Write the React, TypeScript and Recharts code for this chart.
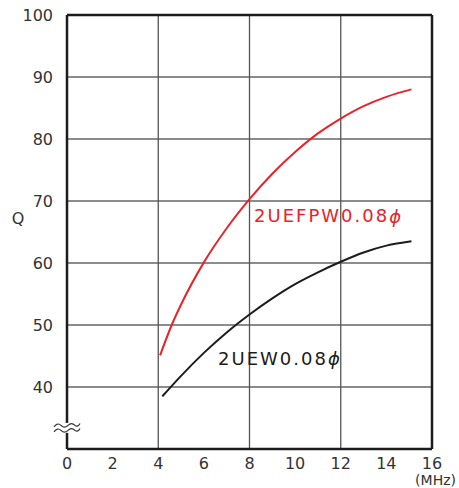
import React from "react"
import {
  LineChart,
  Line,
  XAxis,
  YAxis,
  ReferenceLine,
  ReferenceDot,
} from "recharts"

// Q vs frequency (MHz)
const freqRed = [4.08, 4.59, 5, 6, 7, 8, 9, 10, 11, 12, 13, 14, 15.1]
const qRed = [45.1, 50, 53.3, 60.1, 65.6, 70.3, 74.4, 77.9, 80.9, 83.3, 85.3, 86.8, 88]
const freqBlack = [4.18, 5, 6, 7, 8, 9, 10, 11, 12, 13, 14, 15.1]
const qBlack = [38.5, 41.8, 45.5, 48.8, 51.7, 54.3, 56.6, 58.5, 60.2, 61.7, 62.8, 63.5]

const xTicks = [0, 2, 4, 6, 8, 10, 12, 14, 16]
const yTicks = [40, 50, 60, 70, 80, 90, 100]
const xGrid = [4, 8, 12]
const yGrid = [40, 50, 60, 70, 80, 90]

const redData = freqRed.map((f, i) => ({ f, q: qRed[i] }))
const blackData = freqBlack.map((f, i) => ({ f, q: qBlack[i] }))

const FONT = "'DejaVu Sans', sans-serif"
const RED = "#e8232a"
const INK = "#1c1c1c"
const TXT = "#333"

const BreakMark = (props: any) => {
  const { cx, cy } = props
  const wave = (dy: number) =>
    `M${cx - 13},${cy + dy + 2} q3.5,-5 7,-1.5 t7,0 t7,0 q3,2 5,-2`
  return (
    <g>
      <rect x={cx - 3} y={cy - 5} width={6} height={10} fill="#fff" />
      <path d={wave(-3)} fill="none" stroke={TXT} strokeWidth={1.2} />
      <path d={wave(2)} fill="none" stroke={TXT} strokeWidth={1.2} />
    </g>
  )
}

export default function App() {
  return (
    <div style={{ position: "absolute", left: 0, top: 0, background: "#fff" }}>
      <LineChart
        width={459}
        height={488}
        margin={{ top: 15, right: 27, bottom: 0, left: 0 }}
        style={{ fontFamily: FONT }}
      >
        <XAxis
          dataKey="f"
          type="number"
          domain={[0, 16]}
          ticks={xTicks}
          allowDataOverflow
          height={39}
          tickLine={false}
          axisLine={{ stroke: INK, strokeWidth: 2.5 }}
          tick={{ fill: TXT, fontSize: 16 }}
          tickMargin={3}
          label={(p: any) => (
            <text
              x={p.viewBox.x + p.viewBox.width + 24}
              y={p.viewBox.y + 36}
              textAnchor="end"
              fill={TXT}
              fontSize={14}
              fontFamily={FONT}
            >
              (MHz)
            </text>
          )}
        />
        <YAxis
          type="number"
          domain={[30, 100]}
          ticks={yTicks}
          allowDataOverflow
          width={67}
          tickLine={false}
          axisLine={{ stroke: INK, strokeWidth: 2.5 }}
          tick={{ fill: TXT, fontSize: 16 }}
          tickMargin={8}
          label={(p: any) => (
            <text
              x={18}
              y={p.viewBox.y + p.viewBox.height * 0.47}
              textAnchor="middle"
              dominantBaseline="central"
              fill={TXT}
              fontSize={16}
              fontFamily={FONT}
            >
              Q
            </text>
          )}
        />
        {yGrid.map((v) => (
          <ReferenceLine key={"y" + v} y={v} stroke="#666" strokeWidth={1.3} />
        ))}
        {xGrid.map((v) => (
          <ReferenceLine key={"x" + v} x={v} stroke="#555" strokeWidth={1.3} />
        ))}
        <ReferenceLine y={100} stroke={INK} strokeWidth={2.5} />
        <ReferenceLine x={16} stroke={INK} strokeWidth={2.5} />
        <Line
          data={redData}
          dataKey="q"
          type="monotone"
          stroke={RED}
          strokeWidth={2}
          dot={false}
          isAnimationActive={false}
        />
        <Line
          data={blackData}
          dataKey="q"
          type="monotone"
          stroke={INK}
          strokeWidth={2}
          dot={false}
          isAnimationActive={false}
        />
        <ReferenceDot
          x={8.2}
          y={67.6}
          r={0}
          label={(p: any) => (
            <text
              x={p.viewBox.x}
              y={p.viewBox.y}
              dominantBaseline="central"
              fill={RED}
              fontSize={18}
              letterSpacing={2}
              fontFamily={FONT}
            >
              2UEFPW0.08<tspan fontStyle="italic">ϕ</tspan>
            </text>
          )}
        />
        <ReferenceDot
          x={6.62}
          y={44.6}
          r={0}
          label={(p: any) => (
            <text
              x={p.viewBox.x}
              y={p.viewBox.y}
              dominantBaseline="central"
              fill={INK}
              fontSize={18}
              letterSpacing={2}
              fontFamily={FONT}
            >
              2UEW0.08<tspan fontStyle="italic">ϕ</tspan>
            </text>
          )}
        />
        <ReferenceDot x={0} y={33.4} r={0} shape={BreakMark} />
      </LineChart>
    </div>
  )
}
